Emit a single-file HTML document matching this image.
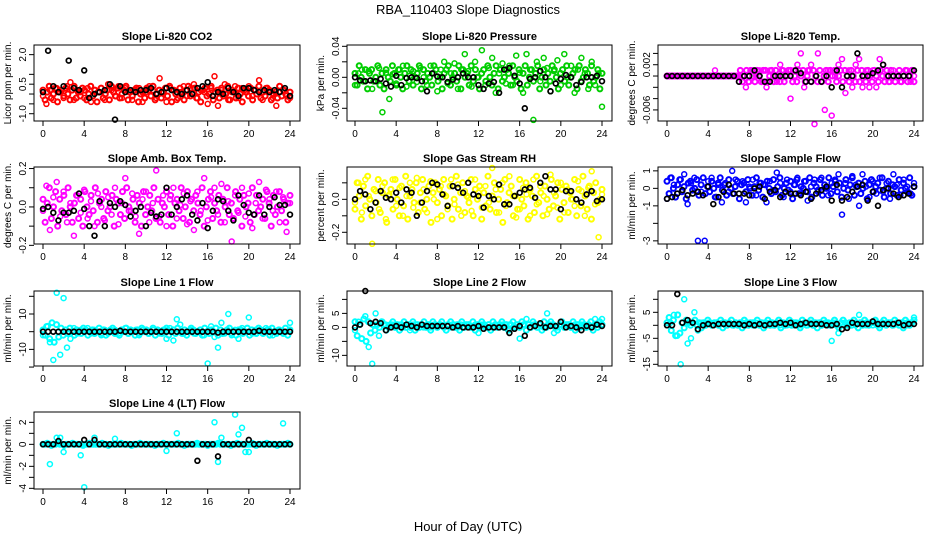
<!DOCTYPE html>
<html><head><meta charset="utf-8"><style>
body{margin:0;background:#fff}
svg{display:block;font-family:"Liberation Sans","DejaVu Sans",sans-serif}
</style></head><body>
<svg id="c" width="936" height="540" viewBox="0 0 936 540">
<text x="468" y="14" text-anchor="middle" font-size="13">RBA_110403  Slope Diagnostics</text>
<text x="468" y="531" text-anchor="middle" font-size="13">Hour of Day (UTC)</text>
</svg>
<script>
const xTickLabels = [0,4,8,12,16,20,24];
// sparse readings (actual units)
const co2C=[-0.1,-0.5,0.2,-0.3,0.3,0.1,-0.2,0.4,0.6,-0.3,0.2,0.1,-0.2,0.3,-0.4,0.2,0.1,0.3,-0.3,0.5,0.2,-0.1,0.4,-0.2,0.3,0.1,-0.3,0.2,0.3,-0.4,0.1,0.4,0.2,-0.2,0.8,0.1,-0.4,0.3,0.2,-0.3,0.1,0.4,-0.1,0.3,0.5,-0.2,0.2,0.1,-0.5,0.3,0.9,-0.6,0.2,0.5,-0.3,0.1,0.4,-0.2,0.3,0.1,0.4,-0.1,0.2,0.7,-0.3,0.3,0.1,-0.2,-0.6,0.4,0.2,-0.1,-0.2];
const co2K=[0.1,2.2,0.4,0.1,0.4,1.7,0.3,0.2,1.2,-0.2,0,0.1,0.2,0.5,-1.3,0.4,0.1,0.2,0.1,0.2,0.2,0.3,0,0.1,0.3,0.2,0.1,0.0,0.2,0,0.3,0.4,0.6,-0.1,0.1,0,0.3,0.1,-0.1,0.3,0.3,0.2,0.1,0.2,0.1,0.2,0.1,0.3,-0.1];
const prC=[-0.01,0.005,0.01,-0.005,0.008,-0.015,0.0,0.012,-0.045,0.006,-0.028,0.004,-0.008,0.01,0.015,-0.012,0.002,0.008,-0.006,0.012,0.0,-0.01,0.015,0.005,-0.018,0.01,0.02,-0.008,0.005,0.018,-0.015,0.01,0.03,0.008,-0.012,0.02,0.0,0.035,-0.01,0.012,0.025,-0.02,0.005,0.018,-0.008,0.015,-0.01,0.028,0.006,-0.02,0.03,0.01,-0.055,0.02,-0.005,0.025,0.012,-0.018,0.008,0.022,-0.01,0.03,0.0,0.015,-0.02,0.01,0.025,0.005,-0.015,0.02,-0.01,0.005,-0.038];
const prK=[0,-0.004,-0.005,-0.004,-0.005,-0.002,-0.008,-0.012,0.002,-0.01,-0.001,0.0,-0.001,-0.005,-0.018,0.005,0.001,0,-0.006,-0.003,0.0,0.005,0.0,0.0,-0.01,-0.015,-0.008,-0.006,-0.02,0.01,0.012,0.002,-0.008,-0.04,-0.002,0.0,0.008,0.0,-0.018,-0.008,-0.002,0.003,0.0,-0.01,-0.006,0.0,0.0,0.002,-0.005];
const tmC=[0,0,0,0,0,0,0,0,0,0,0,0,0,0,0.001,0,0,0,0,0,0,-0.001,0,-0.002,-0.001,0.001,0,0.001,-0.001,-0.002,0.001,0,-0.001,0.002,0.001,0,-0.004,0.001,0.002,0.004,-0.002,0.001,0.002,-0.0085,0.004,-0.001,-0.006,0.001,-0.007,0,0.002,0.003,-0.003,0.001,-0.002,0.002,0.003,-0.002,0.001,-0.002,0.001,-0.002,0.003,0.002,0,-0.001,0.001,0,-0.001,0,0.001,-0.001,0];
const tmK=[0,0,0,0,0,0,0,0,0,0,0,0,0,0,-0.001,0,0,0.001,0,-0.001,-0.001,0,0,0,0,0.001,0.0005,-0.001,-0.001,0,-0.001,0,-0.002,0.001,-0.002,0,0,0.004,0,0,0.0005,0.001,0.002,0,0,0,0,0,0.001];
const abC=[-0.02,0.11,-0.12,0.05,0.13,-0.05,0.08,-0.08,0.02,-0.15,0.06,-0.03,0.09,-0.06,0.03,-0.1,0.07,0.0,-0.07,0.05,-0.04,0.1,-0.09,0.02,0.15,-0.02,0.07,-0.05,-0.14,0.04,0.08,-0.08,0.02,0.19,-0.05,0.06,-0.1,0.04,0.1,-0.06,0.01,0.07,-0.09,0.03,-0.12,0.08,-0.02,0.15,-0.07,0.05,0.1,-0.04,0.12,-0.08,0.03,-0.18,0.06,-0.03,0.1,-0.05,0.07,-0.11,0.02,0.13,-0.06,0.09,0.04,-0.02,0.08,-0.08,0.05,-0.13,0.02];
const abK=[-0.01,0,-0.03,-0.07,-0.03,-0.03,-0.02,0.07,-0.01,-0.1,-0.15,0.03,-0.1,0.02,0,0.03,0.01,-0.05,-0.02,0.0,-0.1,-0.03,-0.05,-0.04,0.1,-0.04,0,0.04,0.06,-0.04,-0.07,0.02,-0.11,-0.02,0.04,0.03,-0.02,-0.07,0.06,0.01,-0.03,-0.04,0.06,-0.04,0.0,0.05,0.01,0.01,-0.04];
const rhC=[-0.02,0.1,-0.08,0.12,0.02,-0.27,0.05,-0.06,0.08,-0.12,0.03,0.12,-0.04,0.07,-0.1,0.02,0.1,-0.05,0.13,-0.02,0.06,-0.08,0.11,0.0,-0.12,0.08,0.03,-0.06,0.12,-0.03,0.09,-0.1,0.05,0.01,-0.07,0.12,0.04,-0.05,0.08,-0.02,0.19,0.06,-0.08,0.1,-0.04,0.14,0.02,-0.11,-0.06,0.07,0.03,-0.1,0.12,-0.03,0.08,0.02,-0.09,0.15,0.04,-0.05,0.1,-0.08,0.06,0.0,-0.04,0.11,0.05,-0.1,0.07,0.17,-0.03,-0.23,0.03];
const rhK=[0,0.05,0.03,-0.06,-0.02,0.05,0.01,0.0,0.04,-0.02,0.06,0.04,-0.1,-0.02,0.05,0.1,0.09,0.03,-0.04,0.08,0.07,0.04,0.1,0.03,0.02,-0.05,0.02,0.0,0.09,-0.03,-0.03,0.02,0.04,0.06,0.07,0.01,0.1,0.14,0.06,0.06,-0.06,0.05,0.05,0.0,-0.02,0.03,0.05,-0.01,0.0];
const sfC=[-0.6,0.6,0.2,-0.3,0.5,0.8,-0.9,0.3,0.6,-3.0,-0.2,-3.0,0.4,0.6,-0.5,0.2,-0.8,0.3,-0.2,1.0,0.5,-0.3,0.4,-0.8,0.1,0.5,-0.4,0.3,0.2,-0.8,0.4,-0.1,0.9,0.3,-0.5,0.5,-0.2,0.2,0.6,-0.3,0.4,-0.7,0.1,0.5,-0.2,0.6,0.0,-0.4,0.3,0.5,0.8,-1.5,0.3,-0.6,0.7,0.2,-1.0,0.8,0.1,-0.5,0.4,-0.3,0.6,-0.2,0.3,-0.6,0.8,0.2,-0.4,0.5,0.1,-0.3,0.3];
const sfK=[-0.6,-0.5,-0.3,-0.1,-0.4,-0.3,-0.2,-0.4,0.1,-0.9,-0.5,-0.2,0.2,-0.3,-0.3,-0.3,-0.4,0,0.1,-0.6,-0.2,-0.1,-0.5,-0.2,-0.3,-0.3,-0.4,-0.2,-0.6,-0.3,-0.1,0.1,-0.7,0.2,-0.7,-0.5,-0.2,0.1,0.2,-0.7,-0.2,-1.0,-0.1,0.0,-0.3,-0.5,-0.4,-0.3,0.1];
const l1C=[-2,3,-6,-16,22,-13,19,-9,-4,2,-1,1,0,2,-1,1,0,-2,1,-1,0,1,-1,0,2,-1,0,1,-2,1,0,-1,1,0,-1,1,-4,2,-5,7,4,-1,0,1,-1,0,1,-2,-18,3,-3,-9,5,-1,10,-2,1,-4,2,0,8,-1,1,0,-1,2,1,-2,0,1,-1,0,5];
const l1K=[0,0,0,0,0,0,0,0,0,0,0,0,0,0,0,0.5,0,0,0,0,0,0,0,0,0,0,0,0,0,0,0,0,0,0,-0.5,0,0,0,0,0,0,0,0.5,0,0,0,0,0,0];
const l2C=[-1,2,-4,4,-7,-13,5,-3,2,1,0,1,0,1,0,1,-1,1,0,1,0,1,0,1,0,1,0,1,0,1,0,1,0,1,0,1,-2,1,0,1,0,1,0,1,0,1,0,1,-4,1,3,0,1,0,1,0,5,1,-2,0,1,0,1,0,1,0,1,0,1,0,3,1,3];
const l2K=[0,1,13,1.5,2,1.5,-1,0,0.5,0,1,0.5,0,1,0.5,0.5,0.5,0.5,0.5,0,0.5,0,0,0,0.5,-0.5,0,0,0,0,-2,-0.5,0.5,-3,0,0.5,1.5,0,0.5,0.5,2,0,0.5,0,-1,0.5,0,1,0.5];
const l3C=[0,1,4,-4,-15,10,-7,-5,5,-2,1,0,1,0,1,0,1,0,1,0,1,0,1,0,1,0,1,0,1,0,1,0,1,0,1,0,1,0,1,0,1,0,1,0,1,0,1,0,-6,1,-3,0,1,0,1,0,4,1,0,1,0,1,0,1,0,1,0,1,0,1,0,1,3];
const l3K=[0,0,12,1,2,1,-1.5,0,0.5,0,0.5,0.5,0.5,0.5,0.5,0,0.5,0,0.5,0,0.5,0.5,1,0.5,1,0,0.5,1,0.5,0.5,0.5,0,0,0.5,-1.5,-1,1,0.5,0.5,0.5,1.5,0.5,0.5,0.5,0.5,1,0,0.5,0.5];
const l4C=[0,0,-1.8,0,0.6,0.6,-0.7,0,0,0,0,-1,-3.9,0,0,0.6,0,0,0,0,0,0.5,0,0,0,0,0,0,0,0,0,0,0,0,0,0,-0.6,0,0,1,0,0,0,0,0,0,0,0,0,0,2,-1.6,0.6,0,0,0,2.7,0.9,1.5,-0.7,-0.7,0,0,0,0,0,0,0,0,0,1.9,0,0];
const l4K=[0,0,0,0.3,0,0,0,0,0.4,0,0.4,0,0,0,0,0,0,0,0,0,0,0,0,0,0,0,0,0,0,0,-1.5,0,0,0,-1.1,0,0,0,0,0,0.4,0,0,0,0,0,0,0,0];
// dense background readings (integers in each panel's "unit")
const co2B=[2,-3,1,4,-2,0,3,-4,1,2,-1,3,0,-3,2,4,-2,1,-1,3,2,-3,0,4,-1,2,-4,1,3,-2,0,2,-3,4,1,-1,3,-2,0,2,4,-3,1,-1,2,3,-4,0,1,-2,3,2,-1,4,-3,0,2,-2,1,3,-1,4,-4,2,0,-2,3,1,-3,2,4,-1,0,3,-2,1,-4,2,3,-1,0,4,-3,1,2,-2,3,-1,0,4,-3,2,1,-2,3,0,-4,2,1,-1,3,-3,2,0,4,-2,1,-1,3,2,-3,0,1,-2,4,-1,2,0,-3,1];
const prB=[1,-2,3,0,-1,2,-3,1,2,-1,0,3,-2,1,-3,2,0,-1,3,1,-2,2,0,-3,1,3,-1,2,-2,0,1,3,-3,2,-1,1,0,-2,3,2,-1,0,-3,1,2,3,-2,0,1,-1,3,-3,2,0,1,-2,3,-1,2,0,-3,1,2,-1,3,0,-2,1,3,-3,2,-1,0,2,1,-2,3,0,-1,2,-3,1,3,-2,0,2,-1,1,3,-3,0,2,-2,1,-1,3,2,0,-3,1,2,-1,3,-2,0,1,2,-3,3,-1,0,2,1,-2,3,-1,0,2,-3,1];
const tmB=[0,0,0,0,0,0,0,0,0,0,0,0,0,0,0,0,0,0,0,0,0,0,0,0,0,0,0,0,0,0,0,0,0,0,0,1,-1,0,1,-1,1,0,-1,1,0,-1,1,1,-1,0,1,-1,1,0,-1,1,-1,0,1,1,-1,0,-1,1,0,1,-1,0,1,-1,1,0,-1,1,-1,0,1,-1,1,0,1,-1,0,1,-1,1,0,-1,1,0,-1,1,-1,1,0,-1,1,0,-1,1,0,-1,1,0,-1,1,-1,1,0,-1,0,1,-1,0,1,-1,0,1,-1];
const abB=[2,-4,1,5,-3,0,4,-5,2,-1,3,-2,5,0,-4,1,3,-3,2,-5,4,0,-2,3,-1,5,-4,1,2,-3,4,-1,0,3,-5,2,1,-2,4,-3,5,0,-1,2,-4,3,1,-5,4,-2,0,3,-1,5,-3,2,-4,1,0,4,-2,3,-5,1,2,-1,5,-3,0,4,-4,2,-1,3,1,-2,5,-5,0,2,4,-3,1,-1,3,-4,2,0,5,-2,1,-3,4,-1,2,-5,3,0,1,-4,5,-2,3,-1,0,2,-3,4,1,-5,3,-2,0,4,-1,2,-4,1,3];
const rhB=[-3,5,1,-6,4,-2,7,0,-5,3,-1,6,-4,2,5,-7,1,3,-3,6,0,-5,4,-2,7,-6,1,3,-1,5,-4,2,6,-3,0,4,-7,2,5,-1,3,-5,6,1,-2,4,-6,0,7,-3,2,5,-4,1,-1,6,-5,3,0,4,-6,2,-2,7,-3,1,5,-4,0,3,-7,6,-1,2,4,-5,1,-3,6,0,-2,5,-6,3,1,-4,7,-1,2,-5,4,0,-3,6,-2,1,5,-6,3,-1,4,-4,2,0,6,-5,3,-2,7,1,-3,4,-6,2,5,-1,0,3];
const sfB=[4,-3,6,0,-5,2,5,-2,1,-6,3,4,-1,0,5,-4,2,6,-3,1,-2,4,0,-5,3,6,-1,2,-4,5,0,-3,1,4,-6,2,3,-2,5,0,-4,1,6,-1,3,-5,2,4,0,-3,5,-2,1,6,-4,0,3,-1,4,-6,2,5,-3,1,0,4,-2,6,-5,3,1,-1,5,-4,2,0,6,-3,1,4,-2,3,-5,0,5,-1,2,6,-4,1,3,-3,0,4,-6,2,5,-2,1,3,-1,6,-5,0,4,-3,2,1,-4,5,-1,3,0,-2,6,-4,1];
const l1B=[1,-2,3,-4,5,-6,4,-3,2,-2,1,-1,2,0,-2,1,0,-1,2,1,-2,0,1,-1,0,2,-1,1,-2,0,1,2,-1,0,-2,1,0,2,-1,1,0,-2,1,-1,2,0,1,-1,0,2,-2,1,0,-1,1,2,-2,0,1,-1,2,0,-1,1,-2,0,2,1,-1,0,1,-2,2,0,-1,1,0,2,-2,1,-1,0,1,2,-1,0,-2,1,1,-1,0,2,-2,1,0,-1,2,1,-1,0,1,-2,2,0,-1,1,0,-1,2,-2,1];
const l2B=[2,-3,1,-4,3,-5,2,-2,1,-1,1,0,2,1,-1,0,1,2,0,1,-1,1,2,0,1,0,2,-1,1,0,1,2,0,1,-1,2,1,0,1,2,0,-1,1,2,1,0,1,-1,2,0,1,1,0,2,-1,1,0,2,1,0,1,-1,2,1,0,1,2,0,1,-1,1,2,0,1,0,2,1,-1,1,0,2,1,0,1,-1,2,0,1,2,1,0,-1,1,2,0,1,1,0,2,-1,1,0,2,1,0,1,2,-1,1,0,2,1];
const l3B=[1,3,-2,2,-4,4,-3,1,-1,2,1,0,1,2,0,1,-1,1,0,2,1,0,1,1,0,2,-1,1,0,1,2,0,1,0,1,-1,2,1,0,1,1,0,2,0,1,-1,1,2,0,1,0,1,2,-1,1,0,1,2,0,1,1,0,-1,2,1,0,1,2,0,1,-1,1,0,2,1,1,0,1,2,0,-1,1,2,1,0,1,0,2,1,-1,1,0,2,1,0,1,1,2,0,-1,1,2,0,1,1,0,2,1,0,1,-1,2,1,0,1,2];
const l4B=[0,0,1,0,-1,0,0,1,0,0,-1,0,0,0,1,0,0,0,0,-1,0,0,1,0,0,0,0,0,1,0,0,-1,0,0,0,0,0,1,0,0,0,0,-1,0,0,0,1,0,0,0,0,0,0,-1,0,0,0,1,0,0,0,0,0,0,1,0,0,-1,0,0,0,0,0,1,0,0,0,0,-1,0,0,0,0,1,0,0,0,0,0,-1,0,0,1,0,0,0,0,0,0,1,0,-1,0,0,0,0,1,0,0,0,0,-1,0,0,0,0,1,0];

const panels=[
 {name:"co2",title:"Slope Li-820 CO2",ylab:"Licor ppm per min.",col:0,row:0,ymin:-1.37,ymax:2.49,ticks:[-1,-0.5,0,0.5,1,2],labels:[[-1,"-1.0"],[0.5,"0.5"],[2,"2.0"]],color:"#ff0000",band:co2B,unit:0.1,series:[co2C],black:co2K},
 {name:"pressure",title:"Slope Li-820 Pressure",ylab:"kPa per min.",col:1,row:0,ymin:-0.0564,ymax:0.0417,ticks:[-0.04,-0.02,0,0.02,0.04],labels:[[-0.04,"-0.04"],[0,"0.00"],[0.04,"0.04"]],color:"#00cd00",band:prB,unit:0.005,series:[prC],black:prK},
 {name:"temp",title:"Slope Li-820 Temp.",ylab:"degrees C per min.",col:2,row:0,ymin:-0.00796,ymax:0.00549,ticks:[-0.006,-0.004,-0.002,0,0.002,0.004],labels:[[-0.006,"-0.006"],[0.002,"0.002"]],color:"#ff00ff",band:tmB,unit:0.001,series:[tmC],black:tmK},
 {name:"amb-box",title:"Slope Amb. Box Temp.",ylab:"degrees C per min.",col:0,row:1,ymin:-0.193,ymax:0.208,ticks:[-0.2,-0.1,0,0.1,0.2],labels:[[-0.2,"-0.2"],[0,"0.0"],[0.2,"0.2"]],color:"#ff00ff",band:abB,unit:0.02,series:[abC],black:abK},
 {name:"rh",title:"Slope Gas Stream RH",ylab:"percent per min.",col:1,row:1,ymin:-0.271,ymax:0.196,ticks:[-0.2,-0.1,0,0.1],labels:[[-0.2,"-0.2"],[0,"0.0"]],color:"#ffff00",band:rhB,unit:0.02,series:[rhC],black:rhK},
 {name:"sample-flow",title:"Slope Sample Flow",ylab:"ml/min per min.",col:2,row:1,ymin:-3.18,ymax:1.22,ticks:[-3,-2,-1,0,1],labels:[[-3,"-3"],[-1,"-1"],[0,"0"],[1,"1"]],color:"#0000ff",band:sfB,unit:0.1,series:[sfC],black:sfK},
 {name:"line1",title:"Slope Line 1 Flow",ylab:"ml/min per min.",col:0,row:2,ymin:-19.4,ymax:23,ticks:[-20,-10,0,10,20],labels:[[-10,"-10"],[10,"10"]],color:"#00ffff",band:l1B,unit:1,series:[l1C],black:l1K},
 {name:"line2",title:"Slope Line 2 Flow",ylab:"ml/min per min.",col:1,row:2,ymin:-13.8,ymax:13,ticks:[-10,-5,0,5,10],labels:[[-10,"-10"],[0,"0"],[5,"5"]],color:"#00ffff",band:l2B,unit:1,series:[l2C],black:l2K},
 {name:"line3",title:"Slope Line 3 Flow",ylab:"ml/min per min.",col:2,row:2,ymin:-15.65,ymax:13.2,ticks:[-15,-10,-5,0,5,10],labels:[[-15,"-15"],[-5,"-5"],[5,"5"]],color:"#00ffff",band:l3B,unit:1,series:[l3C],black:l3K},
 {name:"line4",title:"Slope Line 4 (LT) Flow",ylab:"ml/min per min.",col:0,row:3,ymin:-4.06,ymax:2.94,ticks:[-4,-3,-2,-1,0,1,2],labels:[[-4,"-4"],[-2,"-2"],[0,"0"],[2,"2"]],color:"#00ffff",band:l4B,unit:0.1,series:[l4C],black:l4K}
];
const boxL=[34,347,658], boxR=[300,612,923], x0=[43,355,667], x24=[290,602,914];
const boxT=[45,167,291,412], boxB=[121,244,366,489];
const NS="http://www.w3.org/2000/svg", svg=document.getElementById('c');
function mk(tag,attrs,parent,txt){const e=document.createElementNS(NS,tag);for(const k in attrs)e.setAttribute(k,attrs[k]);if(txt!==undefined)e.textContent=txt;parent.appendChild(e);return e;}
panels.forEach(p=>{
  const L=boxL[p.col],R=boxR[p.col],T=boxT[p.row],B=boxB[p.row];
  const xs=h=>x0[p.col]+(x24[p.col]-x0[p.col])*h/24;
  const ys=v=>B-(v-p.ymin)/(p.ymax-p.ymin)*(B-T);
  const g=mk('g',{},svg);
  
  
  const t=mk('text',{x:(L+R)/2,y:T-5,'text-anchor':'middle','font-size':11,'font-weight':'bold'},g,p.title);
  
  
  const yl=mk('text',{transform:`translate(${L-23},${(T+B)/2}) rotate(-90)`,'text-anchor':'middle','font-size':10},g,p.ylab);
  
  
  const marks=mk('g',{fill:'none','stroke-width':1.5},g);
  
  
  p.band.forEach((u,i)=>{const h=i*24/(p.band.length-1);
    const c=mk('circle',{cx:xs(h).toFixed(1),cy:ys(u*p.unit).toFixed(1),r:2.5,stroke:p.color,'stroke-width':2},marks);
    
    });
  p.series.forEach(arr=>{
    arr.forEach((v,i)=>{const h=i*24/(arr.length-1);
      const c=mk('circle',{cx:xs(h).toFixed(1),cy:ys(v).toFixed(1),r:2.5,stroke:p.color},marks);
      
      });
  });
  p.black.forEach((v,i)=>{const h=i*24/(p.black.length-1);
    const c=mk('circle',{cx:xs(h).toFixed(1),cy:ys(v).toFixed(1),r:2.4,stroke:'#000','stroke-width':1.7},marks);
    
    });
  const box=mk('rect',{x:L,y:T,width:R-L,height:B-T,fill:'none',stroke:'#000','stroke-width':1},g);
  
  
  const xa=mk('g',{'font-size':10,'text-anchor':'middle'},g);
  
  
  xTickLabels.forEach(h=>{const x=xs(h);
    mk('line',{x1:x,x2:x,y1:B,y2:B+5,stroke:'#000'},xa);
    mk('text',{x:x,y:B+16},xa,String(h));});
  const ya=mk('g',{'font-size':10,'text-anchor':'middle'},g);
  
  
  p.ticks.forEach(v=>{const y=ys(v);mk('line',{x1:L-5,x2:L,y1:y,y2:y,stroke:'#000'},ya);});
  p.labels.forEach(([v,s])=>{const y=ys(v);mk('text',{transform:`translate(${L-8},${y}) rotate(-90)`},ya,s);});
});
</script>
</body></html>
